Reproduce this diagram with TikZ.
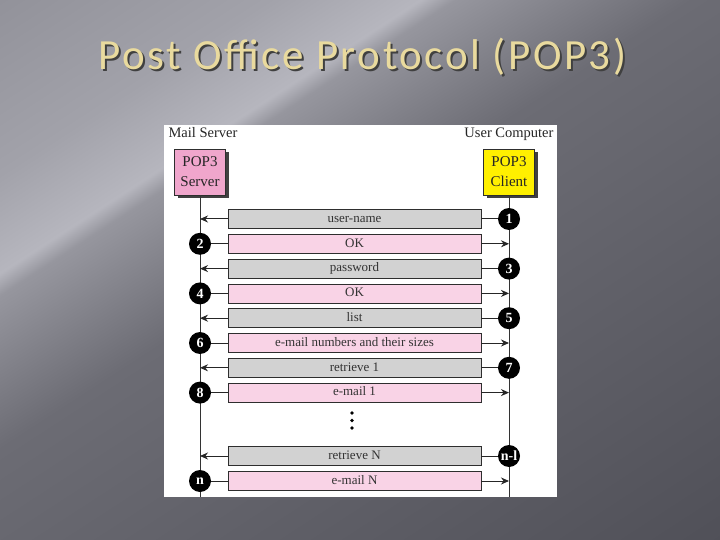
\documentclass[tikz,border=0pt]{standalone}
\usepackage{fontspec}
\setmainfont{Liberation Serif}
\newfontfamily\titlefont[LetterSpace=6]{Carlito}
\usetikzlibrary{arrows.meta,shadows}
\definecolor{bgA}{HTML}{8E8E96}
\definecolor{bgB}{HTML}{A2A2AA}
\definecolor{bgC}{HTML}{B6B6BE}
\definecolor{bgD}{HTML}{96969E}
\definecolor{bgE}{HTML}{6C6C74}
\definecolor{bgF}{HTML}{4E4E56}
\definecolor{titleyellow}{HTML}{E9DA9E}
\definecolor{srvpink}{HTML}{F0A6CC}
\definecolor{barpink}{HTML}{F9D3E6}
\definecolor{bargray}{HTML}{D2D2D2}
\definecolor{cliyellow}{HTML}{FFF000}
\definecolor{inkdark}{HTML}{2E2E2E}
% the path's bounding box maps to 25bp..75bp of the shading
\pgfdeclarehorizontalshading{bgshade}{100bp}{color(0bp)=(bgA); color(25bp)=(bgA); color(35bp)=(bgB); color(39.5bp)=(bgC); color(40.5bp)=(bgD); color(47.5bp)=(bgE); color(75bp)=(bgF); color(100bp)=(bgF)}
\tikzset{
  appbox/.style={draw=inkdark, line width=0.8pt, minimum width=51pt, minimum height=46pt,
    align=center, font=\fontsize{15}{20}\selectfont, text=black!85,
    drop shadow={shadow xshift=3pt, shadow yshift=-3pt, fill=black!75, opacity=1}},
  msgbar/.style={draw=inkdark, line width=0.8pt, minimum width=253pt, minimum height=19pt,
    inner sep=0pt, text height=9pt, text depth=2.5pt, font=\fontsize{13}{15}\selectfont, text=black!80},
  graybar/.style={msgbar, fill=bargray},
  pinkbar/.style={msgbar, fill=barpink},
  stepnum/.style={circle, fill=black, text=white, minimum size=22pt, inner sep=0pt,
    font=\bfseries\fontsize{14}{14}\selectfont},
  lifeline/.style={line width=0.8pt, draw=black!80},
  conn/.style={line width=1pt, draw=black!85},
  msgarrow/.style={conn, -{Stealth[length=8pt,width=7pt]}}
}
\begin{document}
\begin{tikzpicture}[x=1pt,y=-1pt]
\useasboundingbox (0,0) rectangle (720,540);
\begin{scope}
  \clip (0,0) rectangle (720,540);
  \begin{scope}[transform canvas={shift={(360,270)}, rotate=-57}]
    \fill[shading=bgshade] (-460,-460) rectangle (460,460);
  \end{scope}
\end{scope}
% title
\node[anchor=base west, text=black!75, font=\titlefont\fontsize{43}{48}\selectfont] at (97,72) {Post Office Protocol (POP3)};
\node[anchor=base west, text=titleyellow, font=\titlefont\fontsize{43}{48}\selectfont] (title) at (95,70) {Post Office Protocol (POP3)};
% panel
\fill[white] (164,125) rectangle (557,497);
\node[anchor=base west, font=\fontsize{14.5}{16}\selectfont, text=black!85] (mslabel) at (165,138) {Mail Server};
\node[anchor=base east, font=\fontsize{14.5}{16}\selectfont, text=black!85] (uclabel) at (557,138) {User Computer};
% boxes
\node[appbox, fill=srvpink] (srv) at (200,172) {POP3\\Server};
\node[appbox, fill=cliyellow] (cli) at (509,172) {POP3\\Client};
\coordinate (srvbot) at (200,497);
\coordinate (clibot) at (509,497);
\draw[lifeline] (srv.south) -- (srvbot);
\draw[lifeline] (cli.south) -- (clibot);
% messages
\foreach \y/\lab/\num/\idx in {219/user-name/1/1, 268.6/password/3/3, 318.2/list/5/5, 367.8/retrieve 1/7/7, 456/retrieve N/n-l/9}{
  \node[graybar] (b\idx) at (354.5,\y) {\lab};
  \coordinate (s\idx) at (200,\y);
  \node[stepnum] (c\idx) at (509,\y) {\num};
  \draw[conn] (b\idx.east) -- (c\idx);
  \draw[msgarrow] (b\idx.west) -- (s\idx);
}
\foreach \y/\lab/\num/\idx in {243.8/OK/2/2, 293.4/OK/4/4, 343/e-mail numbers and their sizes/6/6, 392.6/e-mail 1/8/8, 481/e-mail N/n/10}{
  \node[pinkbar] (b\idx) at (354.5,\y) {\lab};
  \coordinate (t\idx) at (509,\y);
  \node[stepnum] (c\idx) at (200,\y) {\num};
  \draw[conn] (c\idx) -- (b\idx.west);
  \draw[msgarrow] (b\idx.east) -- (t\idx);
}
% ellipsis dots
\fill[black] (352,413) circle (1.9) (352,420.5) circle (1.9) (352,428) circle (1.9);
\end{tikzpicture}
\end{document}
